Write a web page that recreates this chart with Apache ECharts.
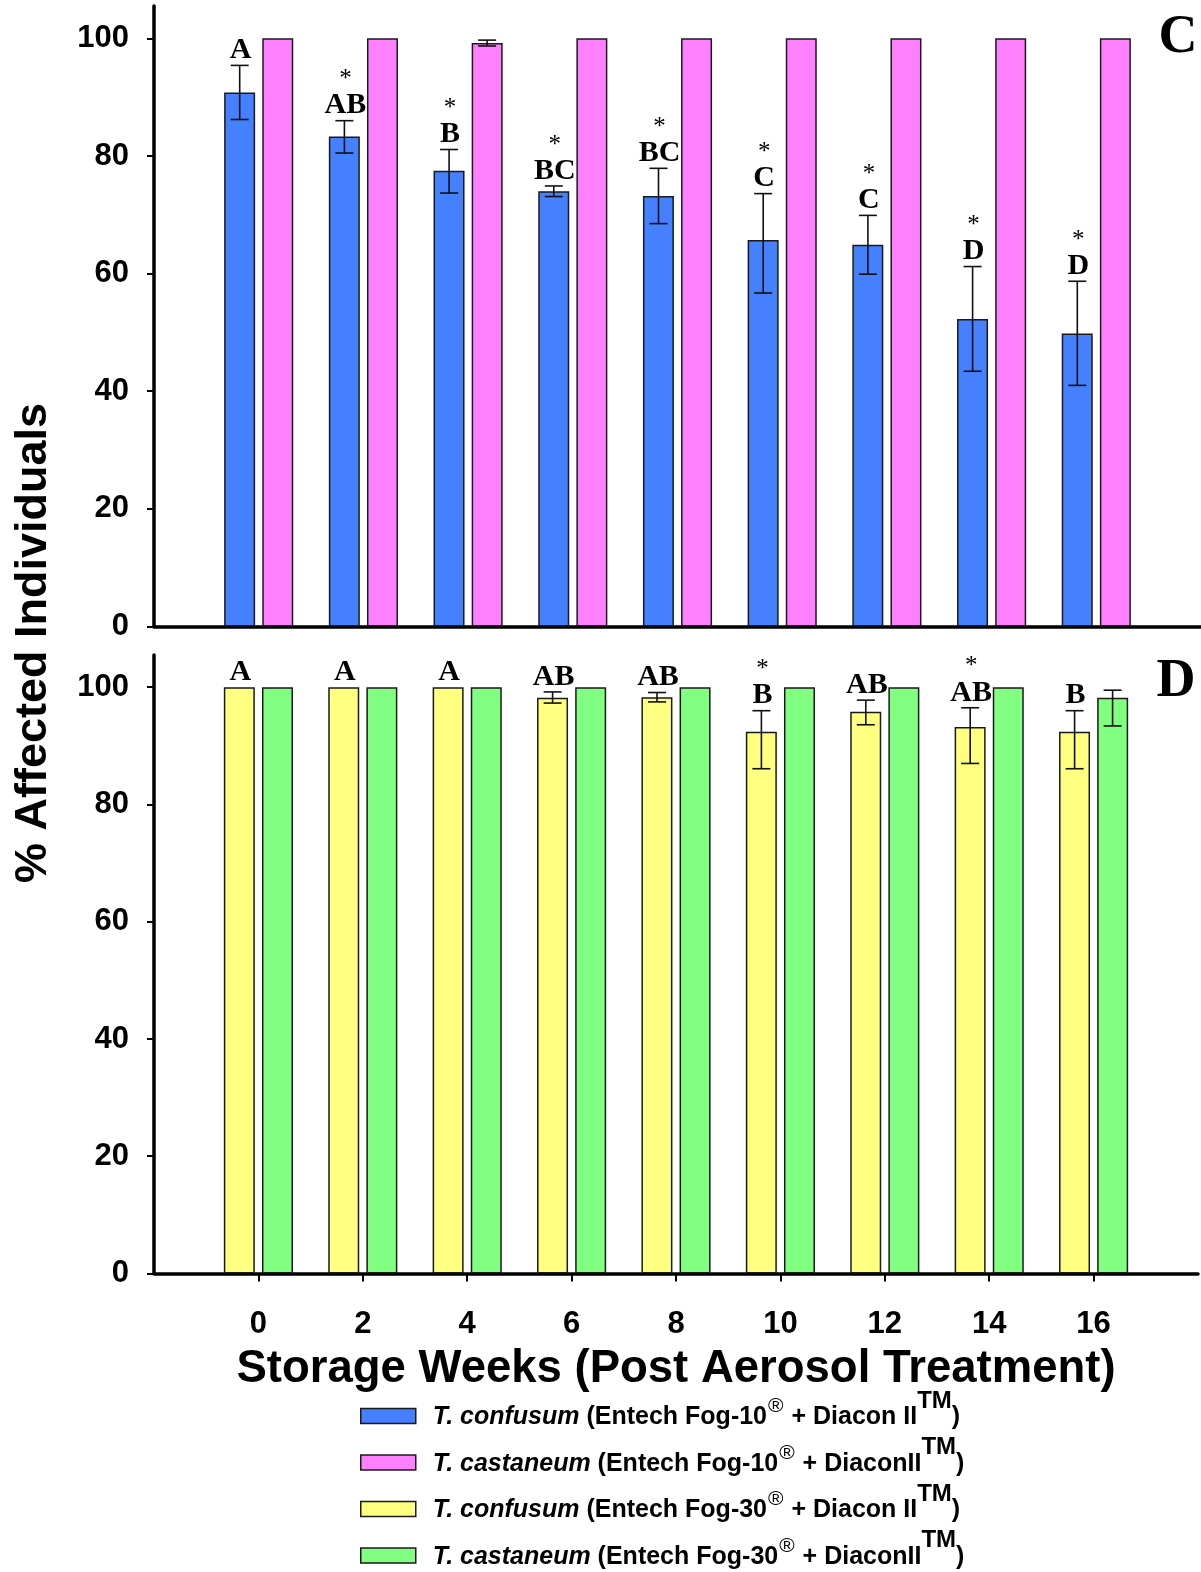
<!DOCTYPE html>
<html>
<head>
<meta charset="utf-8">
<script src="https://cdn.jsdelivr.net/npm/echarts@6/dist/echarts.min.js"></script>
<style>
html,body{margin:0;padding:0;background:#fff;}
#chart{width:1201px;height:1572px;}
</style>
</head>
<body>
<div id="chart"></div>
<script>
// ---- data ----
const weeks = ['0','2','4','6','8','10','12','14','16'];
const yTicks = [0, 20, 40, 60, 80, 100];

const confusumFog10 = [90.8, 83.3, 77.5, 74.0, 73.2, 65.7, 64.9, 52.3, 49.8];
const confusumFog10ErrUp = [4.6, 2.7, 3.6, 0.9, 4.7, 7.9, 5.0, 8.9, 8.9];
const confusumFog10ErrDown = [4.6, 2.8, 3.8, 0.9, 4.7, 9.0, 5.0, 8.9, 8.8];
const confusumFog10Letters = ['A', 'AB', 'B', 'BC', 'BC', 'C', 'C', 'D', 'D'];
const confusumFog10Stars = [false, true, true, true, true, true, true, true, true];

const castaneumFog10 = [100, 100, 99.2, 100, 100, 100, 100, 100, 100];
const castaneumFog10ErrUp = [0, 0, 0.5, 0, 0, 0, 0, 0, 0];
const castaneumFog10ErrDown = [0, 0, 0.5, 0, 0, 0, 0, 0, 0];

const confusumFog30 = [100, 100, 100, 98.2, 98.3, 92.4, 95.8, 93.2, 92.4];
const confusumFog30ErrUp = [0, 0, 0, 1.0, 0.8, 3.6, 2.0, 3.3, 3.6];
const confusumFog30ErrDown = [0, 0, 0, 0.9, 0.8, 6.3, 2.2, 6.2, 6.3];
const confusumFog30Letters = ['A', 'A', 'A', 'AB', 'AB', 'B', 'AB', 'AB', 'B'];
const confusumFog30Stars = [false, false, false, false, false, true, false, true, false];

const castaneumFog30 = [100, 100, 100, 100, 100, 100, 100, 100, 98.2];
const castaneumFog30ErrUp = [0, 0, 0, 0, 0, 0, 0, 0, 1.3];
const castaneumFog30ErrDown = [0, 0, 0, 0, 0, 0, 0, 0, 4.8];

const seriesNames = [
  'T. confusum (Entech Fog-10® + Diacon II™)',
  'T. castaneum (Entech Fog-10® + DiaconII™)',
  'T. confusum (Entech Fog-30® + Diacon II™)',
  'T. castaneum (Entech Fog-30® + DiaconII™)'
];
const legendRich = [
  '{i|T. confusum}{b| (Entech Fog-10}{r|®}{b| + Diacon II}{t|TM}{b|)}',
  '{i|T. castaneum}{b| (Entech Fog-10}{r|®}{b| + DiaconII}{t|TM}{b|)}',
  '{i|T. confusum}{b| (Entech Fog-30}{r|®}{b| + Diacon II}{t|TM}{b|)}',
  '{i|T. castaneum}{b| (Entech Fog-30}{r|®}{b| + DiaconII}{t|TM}{b|)}'
];

const xAxisTitle = 'Storage Weeks (Post Aerosol Treatment)';
const yAxisTitle = '% Affected Individuals';
const panelLetters = ['C', 'D'];

// ---- styling ----
const SANS = '"Liberation Sans", Arial, sans-serif';
const SERIF = '"Liberation Serif", "Times New Roman", serif';
const colors = ['#4480FF', '#FF80FF', '#FFFF80', '#80FF80'];
const BAR_W = 31;
const HALF_STEP = 19;
const axisCats = [' '].concat(weeks).concat(['  ']);

function barSeries(idx, gridIdx, vals) {
  return {
    type: 'bar',
    name: seriesNames[idx],
    xAxisIndex: gridIdx,
    yAxisIndex: gridIdx,
    barWidth: BAR_W,
    barGap: '23%',
    data: weeks.map((w, i) => [w, vals[i]]),
    itemStyle: { color: colors[idx], borderColor: '#1a1a1a', borderWidth: 1.5 },
    emphasis: { disabled: true },
    z: 2
  };
}

function errSeries(gridIdx, vals, up, down, offset, letters, stars) {
  return {
    type: 'custom',
    xAxisIndex: gridIdx,
    yAxisIndex: gridIdx,
    silent: true,
    z: 5,
    clip: false,
    data: weeks.map((w, i) => [w, vals[i], up[i], down[i], i]),
    renderItem: function (params, api) {
      const cat = api.value(0);
      const v = api.value(1);
      const u = api.value(2);
      const d = api.value(3);
      const i = api.value(4);
      const x = api.coord([cat, v])[0] + offset;
      const yTop = api.coord([cat, v + u])[1];
      const yBot = api.coord([cat, v - d])[1];
      const children = [];
      const ls = { stroke: '#111', lineWidth: 1.6 };
      if (u > 0 || d > 0) {
        children.push({ type: 'line', shape: { x1: x, y1: yTop, x2: x, y2: yBot }, style: ls });
        children.push({ type: 'line', shape: { x1: x - 9, y1: yTop, x2: x + 9, y2: yTop }, style: ls });
        children.push({ type: 'line', shape: { x1: x - 9, y1: yBot, x2: x + 9, y2: yBot }, style: ls });
      }
      if (letters) {
        children.push({
          type: 'text',
          style: {
            x: x + 1, y: yTop - 15, text: letters[i],
            font: 'bold 30px ' + SERIF, fill: '#000',
            align: 'center', verticalAlign: 'middle'
          }
        });
        if (stars && stars[i]) {
          children.push({
            type: 'text',
            style: {
              x: x + 1, y: yTop - 41, text: '*',
              font: '25px ' + SERIF, fill: '#000',
              align: 'center', verticalAlign: 'middle'
            }
          });
        }
      }
      return { type: 'group', children: children };
    }
  };
}

function yAxisDef(gridIdx) {
  return {
    type: 'value',
    gridIndex: gridIdx,
    min: 0,
    max: 105.5,
    interval: 20,
    axisLine: { show: true, lineStyle: { color: '#000', width: 3.5 } },
    axisTick: { show: true, inside: false, length: 7, customValues: yTicks, lineStyle: { color: '#000', width: 2 } },
    axisLabel: { customValues: yTicks, margin: 25, color: '#000', fontFamily: SANS, fontWeight: 'bold', fontSize: 31 },
    splitLine: { show: false }
  };
}

const chart = echarts.init(document.getElementById('chart'), null, { renderer: 'canvas' });

const option = {
  backgroundColor: '#fff',
  animation: false,
  grid: [
    { left: 154, right: 0, top: 6, height: 620.5 },
    { left: 154, right: 0, top: 655, height: 618.5 }
  ],
  xAxis: [
    {
      type: 'category', gridIndex: 0, data: axisCats, boundaryGap: false,
      axisLine: { show: true, lineStyle: { color: '#000', width: 3.5 } },
      axisTick: { show: false }, axisLabel: { show: false }, splitLine: { show: false }
    },
    {
      type: 'category', gridIndex: 1, data: axisCats, boundaryGap: false,
      axisLine: { show: true, lineStyle: { color: '#000', width: 3.5 } },
      axisTick: {
        show: true, length: 8, lineStyle: { color: '#000', width: 2 },
        interval: function (index, value) { return weeks.indexOf(value) >= 0; }
      },
      axisLabel: {
        interval: 0, margin: 35, color: '#000', fontFamily: SANS, fontWeight: 'bold', fontSize: 31,
        formatter: function (v) { return weeks.indexOf(v) >= 0 ? v : ''; }
      },
      splitLine: { show: false },
      name: xAxisTitle, nameLocation: 'middle', nameGap: 73,
      nameTextStyle: { color: '#000', fontFamily: SANS, fontWeight: 'bold', fontSize: 45.5 }
    }
  ],
  yAxis: [yAxisDef(0), yAxisDef(1)],
  legend: {
    orient: 'vertical',
    left: 360,
    top: 1389,
    padding: 0,
    icon: 'rect',
    itemWidth: 55,
    itemHeight: 15,
    itemGap: 5.5,
    selectedMode: false,
    data: seriesNames,
    itemStyle: { borderColor: '#1a1a1a', borderWidth: 1.5 },
    formatter: function (name) { return legendRich[seriesNames.indexOf(name)]; },
    textStyle: {
      color: '#000',
      padding: [0, 0, 0, 12],
      rich: {
        i: { fontFamily: SANS, fontWeight: 'bold', fontStyle: 'italic', fontSize: 25, lineHeight: 28, verticalAlign: 'bottom' },
        b: { fontFamily: SANS, fontWeight: 'bold', fontSize: 25, lineHeight: 28, verticalAlign: 'bottom' },
        r: { fontFamily: SANS, fontWeight: 'normal', fontSize: 21, lineHeight: 22, padding: [0, 1, 13, 1], verticalAlign: 'bottom' },
        t: { fontFamily: SANS, fontWeight: 'bold', fontSize: 24, lineHeight: 24, padding: [0, 0, 17, 0], verticalAlign: 'bottom' }
      }
    }
  },
  graphic: [
    {
      type: 'text', x: 34, y: 643, rotation: Math.PI / 2,
      style: { text: yAxisTitle, font: 'bold 45px ' + SANS, fill: '#000', align: 'center', verticalAlign: 'middle' }
    },
    {
      type: 'text', x: 1178, y: 38,
      style: { text: panelLetters[0], font: 'bold 54px ' + SERIF, fill: '#000', align: 'center', verticalAlign: 'middle' }
    },
    {
      type: 'text', x: 1176, y: 682,
      style: { text: panelLetters[1], font: 'bold 54px ' + SERIF, fill: '#000', align: 'center', verticalAlign: 'middle' }
    }
  ],
  series: [
    barSeries(0, 0, confusumFog10),
    barSeries(1, 0, castaneumFog10),
    barSeries(2, 1, confusumFog30),
    barSeries(3, 1, castaneumFog30),
    errSeries(0, confusumFog10, confusumFog10ErrUp, confusumFog10ErrDown, -HALF_STEP, confusumFog10Letters, confusumFog10Stars),
    errSeries(0, castaneumFog10, castaneumFog10ErrUp, castaneumFog10ErrDown, HALF_STEP, null, null),
    errSeries(1, confusumFog30, confusumFog30ErrUp, confusumFog30ErrDown, -HALF_STEP, confusumFog30Letters, confusumFog30Stars),
    errSeries(1, castaneumFog30, castaneumFog30ErrUp, castaneumFog30ErrDown, HALF_STEP, null, null)
  ]
};

chart.setOption(option);
</script>
</body>
</html>
